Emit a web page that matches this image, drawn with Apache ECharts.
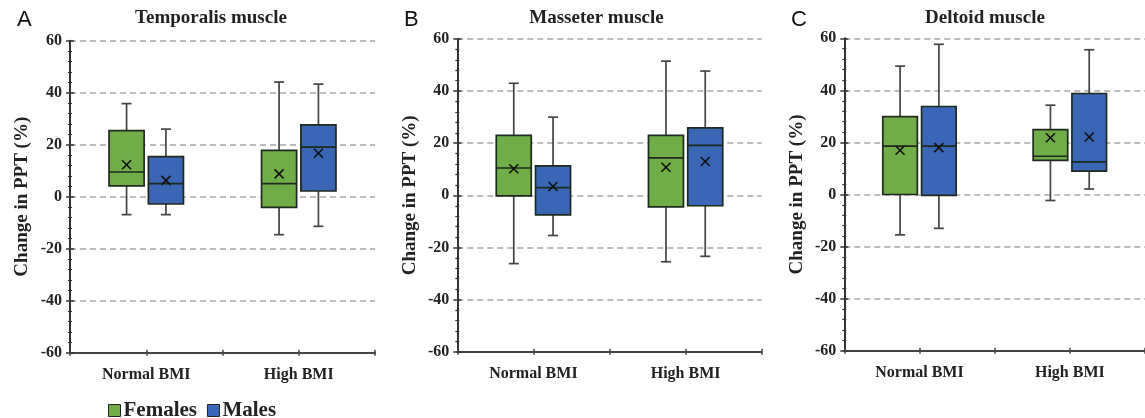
<!DOCTYPE html>
<html>
<head>
<meta charset="utf-8">
<script src="https://cdn.jsdelivr.net/npm/echarts@6/dist/echarts.min.js"></script>
<style>html,body{margin:0;padding:0;background:#fff}#c{width:1145px;height:418px}</style>
</head>
<body>
<div id="c"></div>
<script>
const categories = ['Normal BMI', 'High BMI'];
const seriesNames = ['Females', 'Males'];
const panelTitles = ['Temporalis muscle', 'Masseter muscle', 'Deltoid muscle'];
const panelLetters = ['A', 'B', 'C'];
const yAxisName = 'Change in PPT (%)';
// each row: [lower whisker, Q1, median, Q3, upper whisker, mean]
const temporalisFemales = [[-6.9, 4.2, 9.5, 25.4, 35.8, 12.3], [-14.6, -4.1, 5.0, 17.8, 44.1, 8.8]];
const temporalisMales   = [[-6.9, -2.8, 5.0, 15.4, 26.0, 6.3], [-11.4, 2.2, 19.1, 27.6, 43.3, 16.7]];
const masseterFemales   = [[-26.2, -0.2, 10.5, 23.0, 43.0, 10.2], [-25.5, -4.4, 14.4, 23.0, 51.5, 10.8]];
const masseterMales     = [[-15.4, -7.5, 3.0, 11.3, 30.0, 3.4], [-23.4, -4.0, 19.2, 25.9, 47.7, 13.0]];
const deltoidFemales    = [[-15.5, 0.0, 18.6, 29.9, 49.3, 17.0], [-2.3, 13.1, 14.7, 24.9, 34.3, 21.8]];
const deltoidMales      = [[-13.0, -0.3, 18.6, 33.8, 57.7, 18.0], [2.1, 9.0, 12.5, 38.8, 55.6, 22.1]];
const yMin = -60, yMax = 60, yInterval = 20;

const panels = [[temporalisFemales, temporalisMales], [masseterFemales, masseterMales], [deltoidFemales, deltoidMales]];
const colors = ['#70AD47', '#3A66B5'];
const offsets = [-0.129, 0.129];
const serif = '"Liberation Serif","DejaVu Serif",serif';

const grids = [
  {left: 70, top: 40.7, width: 305, height: 312},
  {left: 457.3, top: 39, width: 304.4, height: 312.7},
  {left: 844.3, top: 38.3, width: 306.6, height: 312.4}
];
const titleX = [206, 591.5, 980];
const letterX = [12, 399, 786];

const xAxes = [], yAxes = [], series = [], titles = [];
grids.forEach((g, gi) => {
  const base = {type: 'category', data: categories, gridIndex: gi, position: 'bottom', boundaryGap: true};
  xAxes.push(Object.assign({}, base, {
    axisLine: {show: true, onZero: false, lineStyle: {color: '#444', width: 2}},
    axisTick: {show: true, interval: 0, length: 3, lineStyle: {color: '#444', width: 1.5}},
    axisLabel: {show: true, interval: 0, margin: 14, color: '#222', fontFamily: serif, fontWeight: 'bold', fontSize: 16},
    splitLine: {show: false}
  }));
  xAxes.push(Object.assign({}, base, {
    axisLine: {show: false, onZero: false},
    axisTick: {show: true, inside: true, interval: 0, length: 3, lineStyle: {color: '#444', width: 1.5}},
    axisLabel: {show: false}, splitLine: {show: false}
  }));
  xAxes.push(Object.assign({}, base, {
    axisLine: {show: false, onZero: false},
    axisTick: {show: true, alignWithLabel: true, interval: 0, length: 3, lineStyle: {color: '#444', width: 1.5}},
    axisLabel: {show: false}, splitLine: {show: false}
  }));
  xAxes.push(Object.assign({}, base, {
    axisLine: {show: false, onZero: false},
    axisTick: {show: true, inside: true, alignWithLabel: true, interval: 0, length: 3, lineStyle: {color: '#444', width: 1.5}},
    axisLabel: {show: false}, splitLine: {show: false}
  }));
  const yb = {type: 'value', gridIndex: gi, position: 'left', min: yMin, max: yMax, interval: yInterval};
  yAxes.push(Object.assign({}, yb, {
    name: yAxisName, nameLocation: 'middle', nameRotate: 90, nameGap: 38,
    nameTextStyle: {color: '#222', fontFamily: serif, fontWeight: 'bold', fontSize: 19},
    axisLine: {show: true, onZero: false, lineStyle: {color: '#333', width: 2}},
    axisTick: {show: true, length: 4, lineStyle: {color: '#333', width: 1.5}},
    minorTick: {show: true, splitNumber: 5, length: 2, lineStyle: {color: '#333', width: 1.2}},
    axisLabel: {margin: 8, color: '#222', fontFamily: serif, fontWeight: 'bold', fontSize: 16},
    splitLine: {show: true, lineStyle: {color: '#a6a6a6', type: [6, 4], width: 1.5}}
  }));
  yAxes.push(Object.assign({}, yb, {
    axisLine: {show: false, onZero: false},
    axisTick: {show: true, inside: true, length: 4, lineStyle: {color: '#333', width: 1.5}},
    minorTick: {show: true, splitNumber: 5, length: 2, lineStyle: {color: '#333', width: 1.2}},
    axisLabel: {show: false}, splitLine: {show: false}
  }));
  titles.push({text: panelLetters[gi], left: letterX[gi], top: 4,
    textStyle: {fontFamily: '"Liberation Sans",Arial,sans-serif', fontWeight: 'normal', fontSize: 22, color: '#111'}});
  titles.push({text: panelTitles[gi], left: titleX[gi], top: 4, textAlign: 'center',
    textStyle: {fontFamily: serif, fontWeight: 'bold', fontSize: 19, color: '#222'}});

  panels[gi].forEach((stats, si) => {
    const off = offsets[si];
    series.push({
      type: 'custom', name: seriesNames[si], xAxisIndex: gi * 4, yAxisIndex: gi * 2,
      itemStyle: {color: colors[si], borderColor: '#222', borderWidth: 1},
      data: stats.map((d, i) => [i].concat(d)),
      renderItem: function (params, api) {
        const c = api.value(0);
        const band = api.size([1, 0])[0];
        const xc = api.coord([c, 0])[0] + off * band;
        const w = band * 0.23;
        const Y = k => api.coord([c, api.value(k)])[1];
        const lo = Y(1), q1 = Y(2), med = Y(3), q3 = Y(4), hi = Y(5), mean = Y(6);
        const ws = {stroke: '#444', lineWidth: 1.7};
        const cap = 5, m = 4.5;
        return {type: 'group', children: [
          {type: 'line', shape: {x1: xc, y1: q1, x2: xc, y2: lo}, style: ws},
          {type: 'line', shape: {x1: xc, y1: q3, x2: xc, y2: hi}, style: ws},
          {type: 'line', shape: {x1: xc - cap, y1: lo, x2: xc + cap, y2: lo}, style: ws},
          {type: 'line', shape: {x1: xc - cap, y1: hi, x2: xc + cap, y2: hi}, style: ws},
          {type: 'rect', shape: {x: xc - w / 2, y: q3, width: w, height: q1 - q3},
            style: {fill: colors[si], stroke: '#1e2a1e', lineWidth: 1.7}},
          {type: 'line', shape: {x1: xc - w / 2, y1: med, x2: xc + w / 2, y2: med}, style: {stroke: '#1e2a1e', lineWidth: 1.7}},
          {type: 'line', shape: {x1: xc - m, y1: mean - m, x2: xc + m, y2: mean + m}, style: {stroke: '#111', lineWidth: 1.6}},
          {type: 'line', shape: {x1: xc - m, y1: mean + m, x2: xc + m, y2: mean - m}, style: {stroke: '#111', lineWidth: 1.6}}
        ]};
      }
    });
  });
});

const chart = echarts.init(document.getElementById('c'), null, {renderer: 'canvas'});
chart.setOption({
  animation: false,
  backgroundColor: '#fff',
  title: titles,
  legend: {
    data: seriesNames, left: 103, top: 395, icon: 'rect', itemWidth: 12, itemHeight: 12, itemGap: 10,
    itemStyle: {borderColor: '#222', borderWidth: 1},
    textStyle: {fontFamily: serif, fontWeight: 'bold', fontSize: 21, color: '#222', padding: [0, 0, 0, -2]}
  },
  grid: grids,
  xAxis: xAxes,
  yAxis: yAxes,
  series: series
});
</script>
</body>
</html>
